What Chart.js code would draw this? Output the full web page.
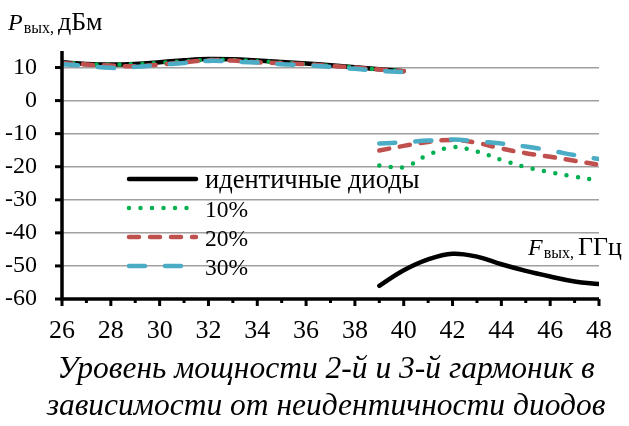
<!DOCTYPE html>
<html>
<head>
<meta charset="utf-8">
<script src="https://cdn.jsdelivr.net/npm/chart.js@4/dist/chart.umd.min.js"></script>
<style>
  html, body { margin: 0; padding: 0; background: #fff; }
  #wrap { width: 629px; height: 426px; }
</style>
</head>
<body>
<div id="wrap"><canvas id="c" width="629" height="426"></canvas></div>
<script>
// Output frequency, GHz: 2nd harmonic band and 3rd harmonic band
const freq2 = [26, 27, 28, 29, 30, 31, 32, 33, 34, 35, 36, 37, 38, 39, 40];
const freq3 = [39, 40, 41, 42, 43, 44, 45, 46, 47, 48];

// Output power, dBm — 2nd harmonic
const ident2 = [11.6, 11.1, 10.9, 11.1, 11.6, 12.2, 12.6, 12.5, 12.1, 11.7, 11.2, 10.7, 10.1, 9.5, 8.9];
const mis10_2 = [11.6, 11.0, 10.9, 11.0, 11.4, 11.9, 12.3, 12.3, 11.9, 11.5, 11.0, 10.5, 10.0, 9.4, 8.9];
const mis20_2 = [11.4, 10.9, 10.6, 10.4, 10.9, 11.6, 12.2, 12.1, 11.6, 11.3, 11.0, 10.5, 10.0, 9.4, 8.9];
const mis30_2 = [11.0, 10.5, 9.9, 10.2, 10.8, 11.4, 12.0, 11.8, 11.5, 11.0, 10.7, 10.2, 9.6, 9.0, 8.6];

// Output power, dBm — 3rd harmonic
const ident3 = [-56.0, -51.3, -48.0, -46.3, -47.2, -49.5, -51.5, -53.2, -54.7, -55.5];
const mis10_3 = [-19.6, -20.1, -16.4, -14.1, -15.4, -17.9, -20.1, -21.7, -23.0, -24.2];
const mis20_3 = [-15.1, -13.7, -12.5, -11.9, -12.8, -14.5, -15.9, -17.0, -18.2, -19.4];
const mis30_3 = [-13.0, -12.6, -12.1, -11.8, -12.3, -13.0, -13.9, -15.1, -16.5, -17.7];

const seriesNames = ['идентичные диоды', '10%', '20%', '30%'];
const yTickValues = [-60, -50, -40, -30, -20, -10, 0, 10];
const xMin = 26, xMax = 48;
const titleLines = ['Уровень мощности 2-й и 3-й гармоник в', 'зависимости от неидентичности диодов'];

const SERIF = '"Liberation Serif", "Times New Roman", serif';

const styles = [
  { color: '#000000', width: 4.5, dash: [], cap: 'round' },
  { color: '#00b050', width: 4.5, dash: [0, 11.5], cap: 'round' },
  { color: '#c0504d', width: 4.5, dash: [10, 11], cap: 'round' },
  { color: '#4bacc6', width: 4.5, dash: [16, 20], cap: 'round' }
];

const pts = (xs, ys) => xs.map((x, i) => ({ x: x, y: ys[i] }));
const series2 = [ident2, mis10_2, mis20_2, mis30_2];
const series3 = [ident3, mis10_3, mis20_3, mis30_3];

const datasets = [];
series2.forEach((s, i) => {
  [pts(freq2, s), pts(freq3, series3[i])].forEach(data => {
    datasets.push({
      label: seriesNames[i],
      data: data,
      borderColor: styles[i].color,
      borderWidth: styles[i].width,
      borderDash: styles[i].dash,
      borderCapStyle: styles[i].cap,
      borderJoinStyle: 'round',
      pointRadius: 0,
      fill: false,
      tension: 0.4,
      order: 4 - i
    });
  });
});

// Axes lines, tick marks, legend, axis captions and caption under the chart
const decor = {
  id: 'decor',
  afterDraw(chart) {
    const ctx = chart.ctx;
    const xs = chart.scales.x, ys = chart.scales.y;
    const a = chart.chartArea;
    ctx.save();
    ctx.strokeStyle = '#000';
    ctx.lineCap = 'butt';
    // y axis
    ctx.lineWidth = 3.5;
    ctx.beginPath();
    ctx.moveTo(a.left, a.top);
    ctx.lineTo(a.left, a.bottom + 1.5);
    ctx.stroke();
    // x axis
    ctx.beginPath();
    ctx.moveTo(a.left - 1.5, a.bottom);
    ctx.lineTo(a.right, a.bottom);
    ctx.stroke();
    // y tick marks
    ctx.lineWidth = 3;
    yTickValues.forEach(v => {
      const y = ys.getPixelForValue(v);
      ctx.beginPath();
      ctx.moveTo(a.left - 7, y);
      ctx.lineTo(a.left, y);
      ctx.stroke();
    });
    // x tick marks (major every 2 GHz, minor every 1 GHz)
    for (let f = xMin; f <= xMax; f++) {
      const x = xs.getPixelForValue(f);
      const len = (f % 2 === 0) ? 7 : 4;
      ctx.beginPath();
      ctx.moveTo(x, a.bottom);
      ctx.lineTo(x, a.bottom + len);
      ctx.stroke();
    }

    // legend
    const lx0 = 129, lx1 = 196, ltx = 205;
    const rows = [179, 208, 237, 266];
    ctx.fillStyle = '#000';
    ctx.textAlign = 'left';
    ctx.textBaseline = 'alphabetic';
    seriesNames.forEach((name, i) => {
      const st = styles[i];
      ctx.strokeStyle = st.color;
      ctx.lineWidth = st.width;
      ctx.lineCap = st.cap;
      ctx.setLineDash(st.dash);
      ctx.beginPath();
      ctx.moveTo(lx0, rows[i]);
      ctx.lineTo(lx1, rows[i]);
      ctx.stroke();
      ctx.setLineDash([]);
      ctx.font = (i === 0 ? '26.5px ' : '23.5px ') + SERIF;
      ctx.fillText(name, ltx, rows[i] + 9);
    });

    // axis captions
    const caption = (x, y, main, sub, unit) => {
      ctx.font = 'italic 24px ' + SERIF;
      ctx.fillText(main, x, y);
      let cx = x + ctx.measureText(main).width + 1;
      ctx.font = '16px ' + SERIF;
      ctx.fillText(sub, cx, y + 3);
      cx += ctx.measureText(sub).width + 4;
      ctx.font = '26px ' + SERIF;
      ctx.fillText(unit, cx, y);
    };
    caption(8, 30, 'P', 'вых,', 'дБм');
    caption(528, 255, 'F', 'вых,', 'ГГц');

    // caption under the chart
    ctx.font = 'italic 31.5px ' + SERIF;
    ctx.textAlign = 'center';
    ctx.fillText(titleLines[0], 326, 378);
    ctx.fillText(titleLines[1], 326, 415);
    ctx.restore();
  }
};

new Chart(document.getElementById('c'), {
  type: 'line',
  data: { datasets: datasets },
  options: {
    responsive: false,
    animation: false,
    events: [],
    layout: { padding: { left: 0, right: 23, top: 51, bottom: 77 } },
    plugins: { legend: { display: false }, title: { display: false }, tooltip: { enabled: false } },
    scales: {
      x: {
        type: 'linear',
        min: xMin,
        max: xMax,
        afterFit(scale) { scale.height = 50; },
        border: { display: false },
        grid: { display: false, drawTicks: false },
        ticks: {
          stepSize: 1,
          autoSkip: false,
          maxRotation: 0,
          padding: 17,
          color: '#000',
          font: { family: SERIF, size: 26 },
          callback: v => (v % 2 === 0 ? String(v) : '')
        }
      },
      y: {
        type: 'linear',
        min: -60,
        max: 15,
        afterFit(scale) { scale.width = 62; },
        afterBuildTicks(scale) { scale.ticks = yTickValues.map(v => ({ value: v })); },
        border: { display: false },
        grid: { color: '#a0a0a0', lineWidth: 1.5, drawTicks: false },
        ticks: {
          padding: 25,
          color: '#000',
          font: { family: SERIF, size: 24 },
          callback: v => String(v)
        }
      }
    }
  },
  plugins: [decor]
});
</script>
</body>
</html>
